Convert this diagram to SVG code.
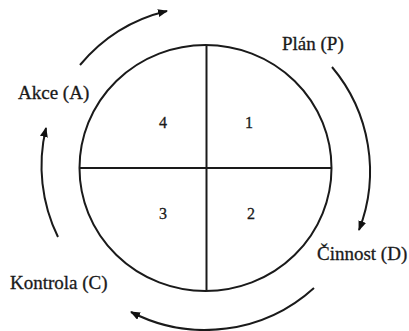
<svg xmlns="http://www.w3.org/2000/svg" width="409" height="331" viewBox="0 0 409 331">
<defs>
<marker id="ah" markerWidth="10" markerHeight="8" refX="9" refY="4" orient="auto" markerUnits="userSpaceOnUse">
<path d="M0,0 L10,4 L0,8 Z" fill="#111"/>
</marker>
<style>
.ln{fill:none;stroke:#1a1a1a;stroke-width:2}
.cy{fill:none;stroke:#1a1a1a;stroke-width:2;marker-end:url(#ah)}
.lb{font-size:19px;fill:#1a1a1a;stroke:#1a1a1a;stroke-width:0.3}
.nm{font-size:16px;fill:#1a1a1a;stroke:#1a1a1a;stroke-width:0.3;text-anchor:middle}
</style>
</defs>
<rect width="409" height="331" fill="#fff"/>
<g id="circle">
<ellipse class="ln" cx="205.5" cy="168" rx="126" ry="123"/>
<line class="ln" x1="206.5" y1="45" x2="206.5" y2="291"/>
<line class="ln" x1="79.5" y1="168" x2="331.5" y2="168"/>
</g>
<g font-family="'Liberation Serif', 'DejaVu Serif', serif">
<g id="q1"><text class="nm" x="249" y="128">1</text></g>
<g id="q2"><text class="nm" x="251" y="219">2</text></g>
<g id="q3"><text class="nm" x="163" y="219">3</text></g>
<g id="q4"><text class="nm" x="163" y="128">4</text></g>
<g id="plan"><text class="lb" x="282" y="50">Plán (P)</text></g>
<g id="akce"><text class="lb" x="18" y="99">Akce (A)</text></g>
<g id="cinnost"><text class="lb" x="317" y="260">Činnost (D)</text></g>
<g id="kontrola"><text class="lb" x="10" y="289">Kontrola (C)</text></g>
</g>
<g id="connectors">
<path class="cy" d="M80,65 A162,162 0 0 1 167,11"/>
<path class="cy" d="M332,67 A162,162 0 0 1 359,230"/>
<path class="cy" d="M314,288 A162,162 0 0 1 131,312"/>
<path class="cy" d="M58,237 A162,162 0 0 1 46,128"/>
</g>
</svg>
